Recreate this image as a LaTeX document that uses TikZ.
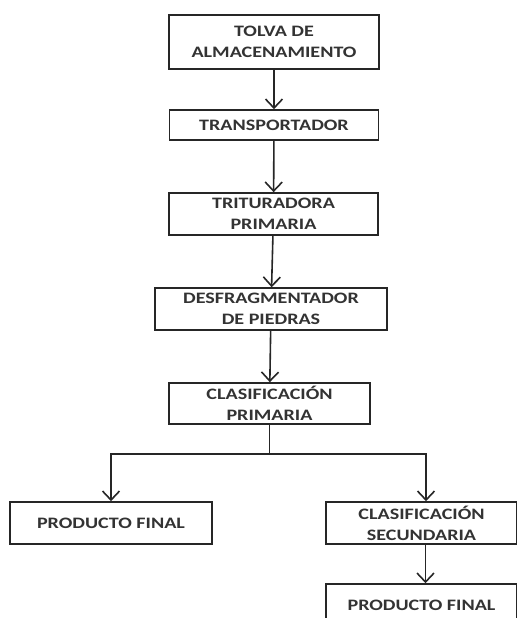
\documentclass[tikz,border=0pt]{standalone}
\usepackage{fontspec}
\setmainfont{Carlito}[FakeStretch=1.26]
\usetikzlibrary{arrows.meta}
\begin{document}
\begin{tikzpicture}[x=1bp,y=-1bp,
  box/.style={draw=black!85,line width=1.6bp,rectangle,inner sep=0pt,align=center,
    font=\fontsize{16}{21}\selectfont\bfseries,text=black!80},
  arr/.style={draw=black!85,line width=1.6bp,-{Straight Barb[length=9bp,width=17bp,line width=1.6bp]}},
  ln/.style={draw=black!85,line width=1.6bp}]
\clip (0,0) rectangle (517,618);
\fill[white] (0,0) rectangle (517,618);
\node[box,minimum width=210bp,minimum height=54bp] (b1) at (274,42) {TOLVA DE\\ALMACENAMIENTO};
\node[box,minimum width=209bp,minimum height=30bp] (b2) at (274,125) {TRANSPORTADOR};
\node[box,minimum width=209bp,minimum height=42bp] (b3) at (273.5,214) {TRITURADORA\\PRIMARIA};
\node[box,minimum width=232bp,minimum height=42bp] (b4) at (271,309) {DESFRAGMENTADOR\\DE PIEDRAS};
\node[box,minimum width=201bp,minimum height=41bp] (b5) at (269.5,403.5) {CLASIFICACIÓN\\PRIMARIA};
\node[box,minimum width=202bp,minimum height=42bp] (b6) at (111,523) {PRODUCTO FINAL};
\node[box,minimum width=191bp,minimum height=42bp] (b7) at (421.5,523) {CLASIFICACIÓN\\SECUNDARIA};
\node[box,minimum width=191bp,minimum height=42bp] (b8) at (421.5,605) {PRODUCTO FINAL};
\coordinate (split) at (269.5,454);
\draw[arr] (b1) -- (b2);
\draw[arr] (b2) -- (b3);
\draw[arr] (b3) -- (b4);
\draw[arr] (b4) -- (b5);
\draw[ln] (b5) -- (split);
\draw[arr] (split) -| (b6);
\draw[arr] (split) -| ([xshift=4.5bp]b7.north);
\draw[arr] ([xshift=4bp]b7.south) -- ([xshift=4bp]b8.north);
\end{tikzpicture}
\end{document}
